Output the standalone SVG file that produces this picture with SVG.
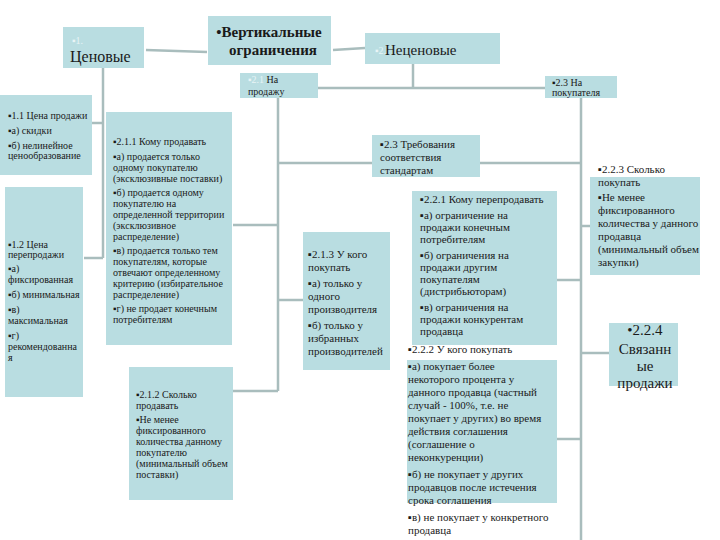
<svg xmlns="http://www.w3.org/2000/svg" width="720" height="540" viewBox="0 0 720 540" font-family="'Liberation Serif','DejaVu Serif','Times New Roman',serif">
<style>
.b{fill:#b9dde1}
.c{stroke:#a9bdbd;stroke-width:2.5;fill:none}
text{font-family:'Liberation Serif','DejaVu Serif','Times New Roman',serif;fill:#1a1a1a}
.s{font-size:10px}
.m{font-size:11px}
.f{fill:#e8f4f6}
</style>
<rect width="720" height="540" fill="#fff"/>
<g id="connectors" class="c">
<path d="M146 50 L207 52"/><path d="M333 50 L365 48"/>
<path d="M103 68 V258"/><path d="M92 123 H103"/><path d="M84 258 H103"/>
<path d="M413 64 V88"/><path d="M318 88 H545"/>
<path d="M278 98 V391"/><path d="M278 163 H372"/><path d="M233 225 H278"/><path d="M233 391 H278"/><path d="M278 300 H303"/>
<path d="M581 98 V540"/><path d="M480 163 H581"/><path d="M557 280 H581"/><path d="M581 226 H590"/><path d="M581 353 H609"/><path d="M557 439 H581"/>
</g>
<g id="n1"><rect class="b" x="63" y="27" width="81" height="41"/><text x="72" y="44" class="s f">▪1.</text><text x="70" y="62" font-size="16">Ценовые</text></g>
<g id="n2"><rect class="b" x="208" y="16" width="123" height="49"/><text x="269" y="37" font-size="15" font-weight="bold" text-anchor="middle">•Вертикальные</text><text x="273" y="55" font-size="15" font-weight="bold" text-anchor="middle">ограничения</text></g>
<g id="n3"><rect class="b" x="365" y="33" width="135" height="31"/><text x="375" y="54" class="s f">▪2.</text><text x="385" y="55" font-size="15">Неценовые</text></g>
<g id="n21"><rect class="b" x="240" y="73" width="78" height="25"/><text x="248" y="83" class="s"><tspan class="f">▪2.1</tspan> На</text><text x="248" y="95" class="s">продажу</text></g>
<g id="n23"><rect class="b" x="545" y="76" width="72" height="22"/><text x="552" y="86" class="s">▪2.3 На</text><text x="552" y="96" class="s">покупателя</text></g>
<g id="n11"><rect class="b" x="0" y="95" width="92" height="80"/><text class="s" x="8" y="119">▪1.1 Цена продажи</text><text class="s" x="8" y="134">▪а) скидки</text><text class="s" x="8" y="149">▪б) нелинейное</text><text class="s" x="8" y="159">ценообразование</text></g>
<g id="n12"><rect class="b" x="5" y="187" width="78" height="210"/><text class="s" x="8" y="248">▪1.2 Цена</text><text class="s" x="8" y="258">перепродажи</text><text class="s" x="8" y="272">▪а)</text><text class="s" x="8" y="283">фиксированная</text><text class="s" x="8" y="298">▪б) минимальная</text><text class="s" x="8" y="313">▪в)</text><text class="s" x="8" y="324">максимальная</text><text class="s" x="8" y="339">▪г)</text><text class="s" x="8" y="350">рекомендованна</text><text class="s" x="8" y="361">я</text></g>
<g id="n211"><rect class="b" x="106" y="112" width="126" height="233"/><text class="s" x="113" y="145">▪2.1.1 Кому продавать</text><text class="s" x="113" y="160">▪а) продается только</text><text class="s" x="113" y="171">одному покупателю</text><text class="s" x="113" y="182">(эксклюзивные поставки)</text><text class="s" x="113" y="196">▪б) продается одному</text><text class="s" x="113" y="207">покупателю на</text><text class="s" x="113" y="218">определенной территории</text><text class="s" x="113" y="229">(эксклюзивное</text><text class="s" x="113" y="240">распределение)</text><text class="s" x="113" y="254">▪в) продается только тем</text><text class="s" x="113" y="265">покупателям, которые</text><text class="s" x="113" y="276">отвечают определенному</text><text class="s" x="113" y="287">критерию (избирательное</text><text class="s" x="113" y="298">распределение)</text><text class="s" x="113" y="312">▪г) не продает конечным</text><text class="s" x="113" y="323">потребителям</text></g>
<g id="n212"><rect class="b" x="129" y="367" width="104" height="133"/><text class="s" x="136" y="398">▪2.1.2 Сколько</text><text class="s" x="136" y="409">продавать</text><text class="s" x="136" y="423">▪Не менее</text><text class="s" x="136" y="434">фиксированного</text><text class="s" x="136" y="445">количества данному</text><text class="s" x="136" y="456">покупателю</text><text class="s" x="136" y="467">(минимальный объем</text><text class="s" x="136" y="478">поставки)</text></g>
<g id="n23t"><rect class="b" x="372" y="135" width="108" height="42"/><text class="m" x="380" y="148">▪2.3 Требования</text><text class="m" x="380" y="161">соответствия</text><text class="m" x="380" y="174">стандартам</text></g>
<g id="n213"><rect class="b" x="303" y="232" width="87" height="138"/><text class="m" x="308" y="258">▪2.1.3 У кого</text><text class="m" x="308" y="271">покупать</text><text class="m" x="308" y="287">▪а) только у</text><text class="m" x="308" y="300">одного</text><text class="m" x="308" y="313">производителя</text><text class="m" x="308" y="329">▪б) только у</text><text class="m" x="308" y="342">избранных</text><text class="m" x="308" y="355">производителей</text></g>
<g id="n221"><rect class="b" x="412" y="191" width="145" height="154"/><text class="m" x="420" y="203">▪2.2.1 Кому перепродавать</text><text class="m" x="420" y="219">▪а) ограничение на</text><text class="m" x="420" y="231">продажи конечным</text><text class="m" x="420" y="243">потребителям</text><text class="m" x="420" y="259">▪б) ограничения на</text><text class="m" x="420" y="271">продажи другим</text><text class="m" x="420" y="283">покупателям</text><text class="m" x="420" y="295">(дистрибьюторам)</text><text class="m" x="420" y="311">▪в) ограничения на</text><text class="m" x="420" y="323">продажи конкурентам</text><text class="m" x="420" y="335">продавца</text></g>
<g id="n222"><rect class="b" x="407" y="360" width="150" height="143"/><text class="m" x="408" y="353">▪2.2.2 У кого покупать</text><text class="m" x="408" y="370">▪а) покупает более</text><text class="m" x="408" y="383">некоторого процента у</text><text class="m" x="408" y="396">данного продавца (частный</text><text class="m" x="408" y="409">случай - 100%, т.е. не</text><text class="m" x="408" y="422">покупает у других) во время</text><text class="m" x="408" y="435">действия соглашения</text><text class="m" x="408" y="448">(соглашение о</text><text class="m" x="408" y="461">неконкуренции)</text><text class="m" x="408" y="478">▪б) не покупает у других</text><text class="m" x="408" y="491">продавцов после истечения</text><text class="m" x="408" y="504">срока соглашения</text><text class="m" x="408" y="521">▪в) не покупает у конкретного</text><text class="m" x="408" y="534">продавца</text></g>
<g id="n223"><rect class="b" x="590" y="177" width="110" height="98"/><text class="m" x="598" y="173">▪2.2.3  Сколько</text><text class="m" x="598" y="186">покупать</text><text class="m" x="598" y="201">▪Не менее</text><text class="m" x="598" y="214">фиксированного</text><text class="m" x="598" y="227">количества у данного</text><text class="m" x="598" y="240">продавца</text><text class="m" x="598" y="253">(минимальный объем</text><text class="m" x="598" y="266">закупки)</text></g>
<g id="n224"><rect class="b" x="609" y="323" width="69" height="63"/><text font-size="15" x="645" y="335" text-anchor="middle">•2.2.4</text><text font-size="15" x="645" y="354" text-anchor="middle">Связанн</text><text font-size="15" x="645" y="371" text-anchor="middle">ые</text><text font-size="15" x="645" y="388" text-anchor="middle">продажи</text></g>
</svg>
